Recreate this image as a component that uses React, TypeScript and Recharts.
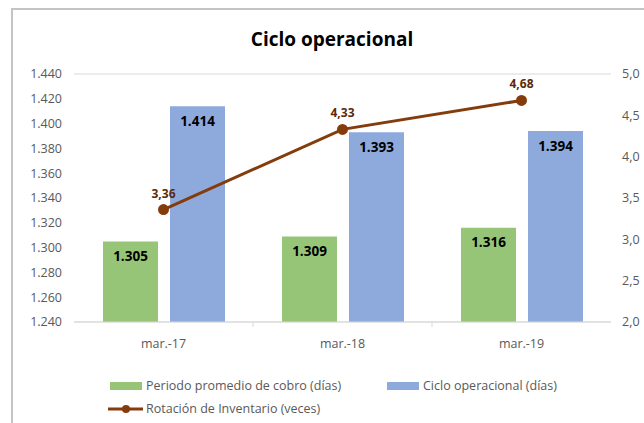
import React from 'react';
import { ComposedChart, Bar, Line, XAxis, YAxis, CartesianGrid, LabelList } from 'recharts';

const periods = ['mar.-17', 'mar.-18', 'mar.-19'];
const cobro = [1305, 1309, 1316];
const ciclo = [1414, 1393, 1394];
const rotacion = [3.36, 4.33, 4.68];
const leftTicks = [1240, 1260, 1280, 1300, 1320, 1340, 1360, 1380, 1400, 1420, 1440];
const rightTicks = [2, 2.5, 3, 3.5, 4, 4.5, 5];

const data = periods.map((p, i) => ({
  period: p,
  cobro: cobro[i],
  ciclo: ciclo[i],
  rotacion: rotacion[i],
}));

const FONT = '"Open Sans", "Noto Sans", sans-serif';
const GREEN = '#97c578';
const BLUE = '#8eaadc';
const BROWN = '#843c0c';
const GRAY = '#595959';

const fmtThousands = (v: number) => (v / 1000).toFixed(3);
const fmtComma1 = (v: number) => v.toFixed(1).replace('.', ',');
const fmtComma2 = (v: any) => Number(v).toFixed(2).replace('.', ',');

// category label plus the small divider mark between categories
const CategoryTick = (props: any) => {
  const { x, y, payload, index } = props;
  const half = 537 / 3 / 2;
  return (
    <g>
      {index < periods.length - 1 && (
        <line x1={x + half} x2={x + half} y1={y - 12} y2={y - 7} stroke="#d9d9d9" />
      )}
      <text x={x} y={y} dy={14} textAnchor="middle" fill={GRAY} fontSize={12.5} fontFamily={FONT}>
        {payload.value}
      </text>
    </g>
  );
};

const LegendBlock = () => (
  <div
    style={{
      position: 'absolute',
      left: 0,
      top: 377,
      width: 644,
      height: 40,
      fontFamily: FONT,
      fontSize: 12.5,
      color: GRAY,
    }}
  >
    <div style={{ position: 'absolute', left: 110, top: 0, display: 'flex', alignItems: 'center' }}>
      <span style={{ width: 32, height: 8, background: GREEN, marginRight: 4 }} />
      Periodo promedio de cobro (días)
    </div>
    <div style={{ position: 'absolute', left: 387, top: 0, display: 'flex', alignItems: 'center' }}>
      <span style={{ width: 32, height: 8, background: BLUE, marginRight: 4 }} />
      Ciclo operacional (días)
    </div>
    <div style={{ position: 'absolute', left: 108, top: 23, display: 'flex', alignItems: 'center' }}>
      <svg width={36} height={10} style={{ marginRight: 2 }}>
        <line x1={0} x2={35} y1={5} y2={5} stroke={BROWN} strokeWidth={3} />
        <circle cx={18} cy={5} r={4} fill={BROWN} />
      </svg>
      Rotación de Inventario (veces)
    </div>
  </div>
);

const App: React.FC = () => {
  return (
    <div style={{ position: 'fixed', left: 0, top: 0, width: 644, height: 423, overflow: 'hidden', background: '#fff' }}>
      <div
        style={{
          position: 'absolute',
          left: 11,
          top: 8,
          width: 800,
          height: 600,
          border: '2px solid #c4c4c4',
        }}
      />
      <div
        style={{
          position: 'absolute',
          left: 0,
          top: 26,
          width: 664,
          textAlign: 'center',
          fontFamily: FONT,
          fontWeight: 700,
          fontSize: 19,
          color: '#000',
        }}
      >
        Ciclo operacional
      </div>
      <div style={{ position: 'absolute', left: 0, top: 0 }}>
        <ComposedChart
          width={644}
          height={423}
          data={data}
          margin={{ top: 74, right: 0, bottom: 71, left: 0 }}
          barSize={55}
          barGap={12}
        >
          <CartesianGrid vertical={false} stroke="#d9d9d9" />
          <XAxis
            dataKey="period"
            height={30}
            axisLine={{ stroke: '#d9d9d9' }}
            tickLine={false}
            tick={<CategoryTick />}
            tickSize={0}
            tickMargin={12}
          />
          <YAxis
            yAxisId="left"
            width={74}
            domain={[1240, 1440]}
            ticks={leftTicks}
            interval={0}
            tickFormatter={fmtThousands}
            axisLine={false}
            tickLine={false}
            tickSize={0}
            tickMargin={12}
            tick={{ fill: GRAY, fontSize: 12.5, fontFamily: FONT }}
          />
          <YAxis
            yAxisId="right"
            orientation="right"
            width={33}
            domain={[2, 5]}
            ticks={rightTicks}
            interval={0}
            tickFormatter={fmtComma1}
            axisLine={false}
            tickLine={false}
            tickSize={0}
            tickMargin={11}
            tick={{ fill: GRAY, fontSize: 12.5, fontFamily: FONT, textAnchor: 'start' }}
          />
          <Bar yAxisId="left" dataKey="cobro" name="Periodo promedio de cobro (días)" fill={GREEN} isAnimationActive={false}>
            <LabelList
              dataKey="cobro"
              position="insideTop"
              offset={10}
              formatter={(v: any) => fmtThousands(Number(v))}
              fill="#000"
              fontSize={13.5}
              fontWeight={700}
              fontFamily={FONT}
            />
          </Bar>
          <Bar yAxisId="left" dataKey="ciclo" name="Ciclo operacional (días)" fill={BLUE} isAnimationActive={false}>
            <LabelList
              dataKey="ciclo"
              position="insideTop"
              offset={10}
              formatter={(v: any) => fmtThousands(Number(v))}
              fill="#000"
              fontSize={13.5}
              fontWeight={700}
              fontFamily={FONT}
            />
          </Bar>
          <Line
            yAxisId="right"
            dataKey="rotacion"
            name="Rotación de Inventario (veces)"
            stroke={BROWN}
            strokeWidth={3}
            dot={{ r: 4, fill: BROWN, stroke: BROWN }}
            isAnimationActive={false}
          >
            <LabelList
              dataKey="rotacion"
              position="top"
              offset={12}
              formatter={fmtComma2}
              fill="#5b2a0a"
              fontSize={12}
              fontWeight={700}
              fontFamily={FONT}
            />
          </Line>
        </ComposedChart>
      </div>
      <LegendBlock />
    </div>
  );
};

export default App;
